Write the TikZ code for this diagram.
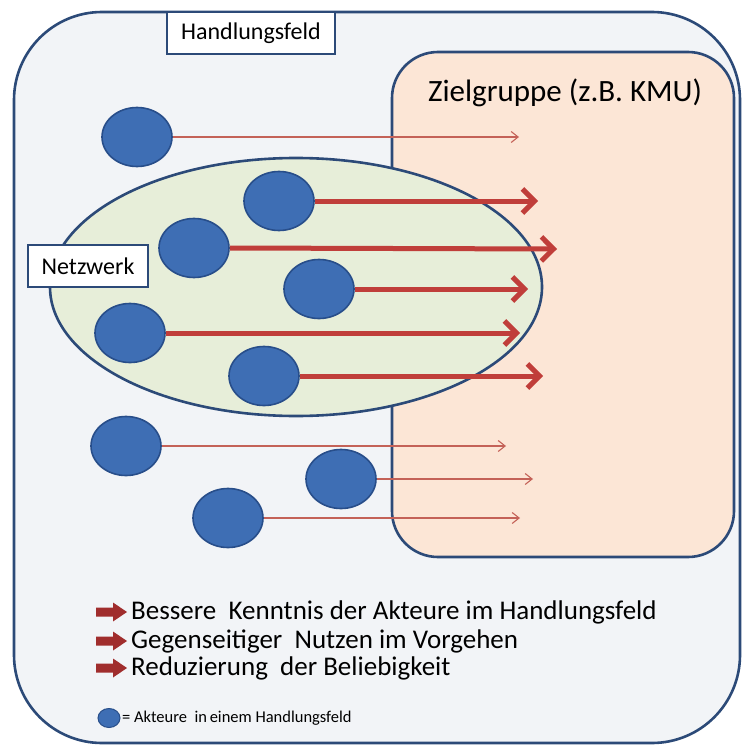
\documentclass[tikz,border=0pt]{standalone}
\usepackage{fontspec}
\setmainfont{Carlito}
\usetikzlibrary{arrows.meta,shapes.geometric}
\definecolor{frame}{RGB}{44,74,120}
\definecolor{outerfill}{RGB}{242,244,247}
\definecolor{peach}{RGB}{252,230,214}
\definecolor{netz}{RGB}{231,238,217}
\definecolor{actor}{RGB}{62,110,180}
\definecolor{actorb}{RGB}{40,78,138}
\definecolor{arrred}{RGB}{192,62,58}
\definecolor{thinred}{RGB}{196,98,88}
\definecolor{blockred}{RGB}{160,45,45}
\tikzset{
  actornode/.style={ellipse,fill=actor,draw=actorb,line width=1.6pt,minimum width=70pt,minimum height=59pt,inner sep=0pt},
  labelbox/.style={draw=frame,fill=white,line width=2.6pt,inner sep=0pt,font=\fontsize{24}{28}\selectfont},
  thickarrow/.style={draw=arrred,line width=5pt,-{Straight Barb[length=12pt,width=24pt]}},
  thinarrow/.style={draw=thinred,line width=1.1pt,-{Straight Barb[length=7pt,width=11pt]}},
  bullettext/.style={anchor=west,inner sep=0pt,font=\fontsize{27}{30}\selectfont},
  blockarr/.pic={\fill[blockred] (-17,-4.5) -- (0,-4.5) -- (0,-9.5) -- (14,0) -- (0,9.5) -- (0,4.5) -- (-17,4.5) -- cycle;}
}
\begin{document}
\begin{tikzpicture}[x=1pt,y=-1pt]
\useasboundingbox (0,0) rectangle (747,749);
\fill[white] (0,0) rectangle (747,749);
% outer field
\draw[draw=frame,fill=outerfill,line width=2.6pt,rounded corners=88pt] (14,12) rectangle (740,743);
% target group
\draw[draw=frame,fill=peach,line width=2.6pt,rounded corners=46pt] (392,52) rectangle (734,557);
\node[font=\fontsize{31}{34}\selectfont,inner sep=0pt] (ziel) at (565,93) {Zielgruppe (z.B. KMU)};
% network
\node[ellipse,draw=frame,fill=netz,line width=2.6pt,minimum width=492pt,minimum height=258pt,inner sep=0pt] (netz) at (296,287) {};
% labels
\node[labelbox,minimum width=168pt,minimum height=42pt] (hf) at (251,33) {Handlungsfeld};
\node[labelbox,minimum width=120pt,minimum height=42pt] (nw) at (88,266) {Netzwerk};
% actors
\node[actornode] (a1) at (137,137) {};
\node[actornode] (a2) at (279,201) {};
\node[actornode] (a3) at (194,248) {};
\node[actornode] (a4) at (319,289) {};
\node[actornode] (a5) at (130,333) {};
\node[actornode] (a6) at (264,376) {};
\node[actornode] (a7) at (126,446) {};
\node[actornode] (a8) at (341,479) {};
\node[actornode] (a9) at (228,518) {};
% targets
\coordinate (t1) at (519,137);
\coordinate (t2) at (538,201);
\coordinate (t3) at (557,249);
\coordinate (t4) at (528,289);
\coordinate (t5) at (520,333);
\coordinate (t6) at (543,376);
\coordinate (t7) at (506,446);
\coordinate (t8) at (533,479);
\coordinate (t9) at (520,518);
\draw[thinarrow] (a1.east) -- (t1);
\draw[thickarrow] (a2.east) -- (t2);
\draw[thickarrow] (a3.east) -- (t3);
\draw[thickarrow] (a4.east) -- (t4);
\draw[thickarrow] (a5.east) -- (t5);
\draw[thickarrow] (a6.east) -- (t6);
\draw[thinarrow] (a7.east) -- (t7);
\draw[thinarrow] (a8.east) -- (t8);
\draw[thinarrow] (a9.east) -- (t9);
% bullets
\coordinate (b1) at (113,612);
\coordinate (b2) at (113,641);
\coordinate (b3) at (113,668);
\pic at (b1) {blockarr};
\pic at (b2) {blockarr};
\pic at (b3) {blockarr};
\node[bullettext] (l1) at (131,612) {Bessere\ \ Kenntnis der Akteure im Handlungsfeld};
\node[bullettext] (l2) at (131,641) {Gegenseitiger\ \ Nutzen im Vorgehen};
\node[bullettext] (l3) at (131,668) {Reduzierung\ \ der Beliebigkeit};
% legend
\node[ellipse,fill=actor,draw=actorb,line width=1pt,minimum width=22pt,minimum height=19pt,inner sep=0pt] (lc) at (109,718) {};
\node[anchor=west,inner sep=0pt,font=\fontsize{16.5}{18}\selectfont] (lt) at (122,718) {= Akteure\ \ in\,einem Handlungsfeld};
\end{tikzpicture}
\end{document}
